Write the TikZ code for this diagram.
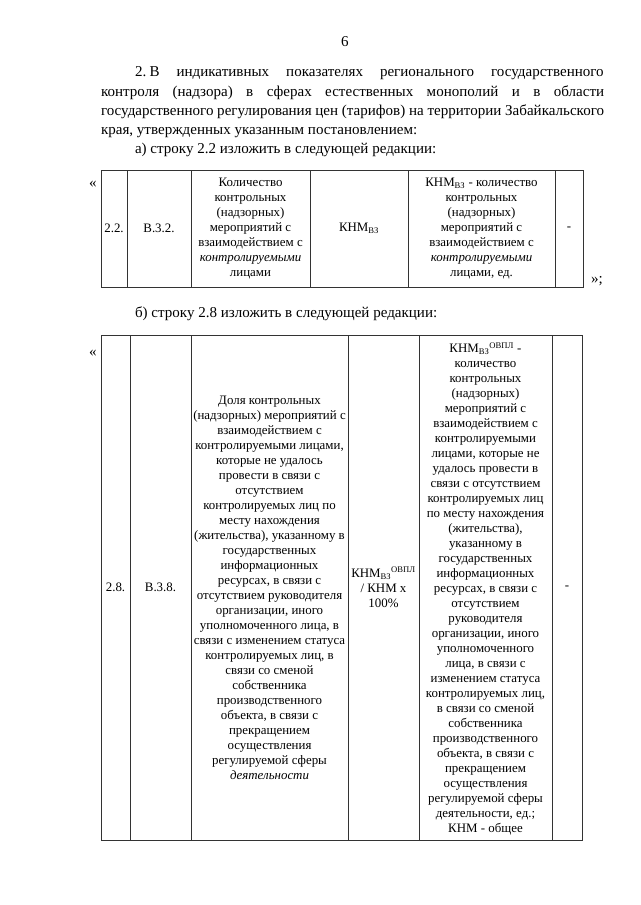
\documentclass[tikz,border=0pt]{standalone}
\usepackage{fontspec}
\setmainfont{Liberation Serif}
\usepackage{tikz}

\begin{document}
\begin{tikzpicture}[x=0.9302pt,y=-0.9302pt,
  every node/.style={inner sep=0pt, outer sep=0pt},
  txtline/.style={anchor=base west, font=\fontsize{14}{18}\selectfont},
  cell/.style={align=center, font=\fontsize{12}{13.95}\selectfont},
  rule/.style={color=black!80, line width=0.6pt}]
\useasboundingbox (0,0) rectangle (640,905);

\node[txtline, anchor=base] (pagenum) at (345,47) {6};
\node[txtline] (par1) at (135,77) {\makebox[436pt][s]{2.\kern3pt В индикативных показателях регионального государственного}};
\node[txtline] (par2) at (101,97) {\makebox[468pt][s]{контроля (надзора) в сферах естественных монополий и в области}};
\node[txtline] (par3) at (101,116) {\makebox[468pt][s]{государственного регулирования цен (тарифов) на территории Забайкальского}};
\node[txtline] (par4) at (101,135) {края, утвержденных указанным постановлением:};
\node[txtline] (itema) at (135,154) {а) строку 2.2 изложить в следующей редакции:};
\node[txtline] (itemb) at (135,317) {б) строку 2.8 изложить в следующей редакции:};

\node[txtline, anchor=base] (lquoA) at (93,187) {«};
\node[txtline, anchor=base] (rquoA) at (597,283) {»;};
\node[txtline, anchor=base] (lquoB) at (93,356) {«};

\node[cell] (numA) at (114,228.5) {2.2.};
\node[cell] (codeA) at (159,228.5) {В.3.2.};
\node[cell] (nameA) at (250.5,228.5) {Количество\\контрольных\\(надзорных)\\мероприятий с\\взаимодействием с\\\textit{контролируемыми}\\лицами};
\node[cell] (formA) at (359,228.5) {КНМ\textsubscript{ВЗ}};
\node[cell] (defA) at (481.5,228.5) {КНМ\textsubscript{ВЗ} - количество\\контрольных\\(надзорных)\\мероприятий с\\взаимодействием с\\\textit{контролируемыми}\\лицами, ед.};
\node[cell] (noteA) at (569,228.5) {-};

\node[cell] (numB) at (115.5,587.5) {2.8.};
\node[cell] (codeB) at (160.5,587.5) {В.3.8.};
\node[cell] (nameB) at (269.5,587.5) {Доля контрольных\\(надзорных) мероприятий с\\взаимодействием с\\контролируемыми лицами,\\которые не удалось\\провести в связи с\\отсутствием\\контролируемых лиц по\\месту нахождения\\(жительства), указанному в\\государственных\\информационных\\ресурсах, в связи с\\отсутствием руководителя\\организации, иного\\уполномоченного лица, в\\связи с изменением статуса\\контролируемых лиц, в\\связи со сменой\\собственника\\производственного\\объекта, в связи с\\прекращением\\осуществления\\регулируемой сферы\\\textit{деятельности}};
\node[cell] (formB) at (383.5,587.5) {КНМ\textsubscript{ВЗ}\textsuperscript{ОВПЛ}\\/ КНМ x\\100\%};
\node[cell] (defB) at (485.5,589) {КНМ\textsubscript{ВЗ}\textsuperscript{ОВПЛ} -\\количество\\контрольных\\(надзорных)\\мероприятий с\\взаимодействием с\\контролируемыми\\лицами, которые не\\удалось провести в\\связи с отсутствием\\контролируемых лиц\\по месту нахождения\\(жительства),\\указанному в\\государственных\\информационных\\ресурсах, в связи с\\отсутствием\\руководителя\\организации, иного\\уполномоченного\\лица, в связи с\\изменением статуса\\контролируемых лиц,\\в связи со сменой\\собственника\\производственного\\объекта, в связи с\\прекращением\\осуществления\\регулируемой сферы\\деятельности, ед.;\\КНМ - общее};
\node[cell] (noteB) at (567,587.5) {-};

\draw[rule] (101,170) rectangle (583,287);
\foreach \x in {127,191,310,408,555} \draw[rule] (\x,170) -- (\x,287);
\draw[rule] (101,335) rectangle (582,840);
\foreach \x in {130,191,348,419,552} \draw[rule] (\x,335) -- (\x,840);
\end{tikzpicture}
\end{document}
